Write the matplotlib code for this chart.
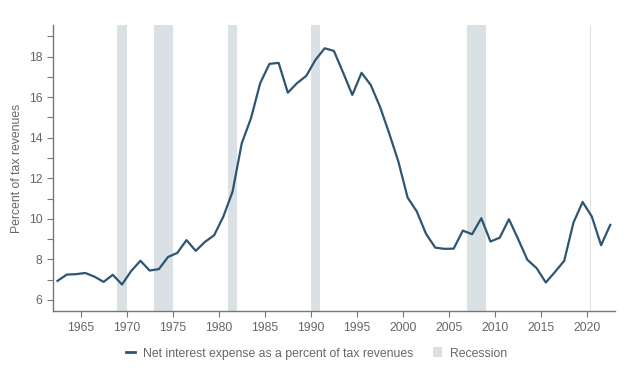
import numpy as np
import matplotlib
matplotlib.use("Agg")
import matplotlib.pyplot as plt
from matplotlib.patches import Patch
from matplotlib.lines import Line2D
from matplotlib.ticker import MultipleLocator

# fiscal years, plotted at mid-year
years = np.arange(1962, 2023)
interest_pct = [
    6.94, 7.25, 7.27, 7.33, 7.15, 6.89, 7.24, 6.76, 7.43, 7.93,
    7.45, 7.52, 8.12, 8.32, 8.95, 8.42, 8.86, 9.19, 10.11, 11.34,
    13.73, 14.96, 16.69, 17.64, 17.69, 16.22, 16.69, 17.05, 17.84, 18.41,
    18.28, 17.21, 16.11, 17.20, 16.60, 15.53, 14.22, 12.82, 11.05, 10.36,
    9.26, 8.58, 8.52, 8.53, 9.42, 9.24, 10.03, 8.88, 9.07, 9.98,
    9.00, 7.98, 7.57, 6.86, 7.38, 7.93, 9.81, 10.83, 10.11, 8.70,
    9.70,
]
recession_start = [1969.0, 1973.0, 1981.0, 1990.0, 2007.0, 2020.25]
recession_end = [1970.0, 1975.0, 1982.0, 1991.0, 2009.0, 2020.45]

line_color = "#2f5570"
shade_color = "#d9e1e4"
text_color = "#666666"

plt.rcParams['font.family'] = ['Liberation Sans', 'DejaVu Sans']

fig = plt.figure(figsize=(6.3, 3.78), dpi=100)
ax = fig.add_axes([0.084, 0.177, 0.892, 0.757])

for s, e in zip(recession_start, recession_end):
    ax.axvspan(s, e, color=shade_color, lw=0, zorder=1)

ax.plot(years + 0.5, interest_pct, color=line_color, lw=1.6, zorder=3)

ax.set_xlim(1962, 2023)
ax.set_ylim(5.45, 19.56)
ax.set_xticks(np.arange(1965, 2021, 5))
ax.yaxis.set_major_locator(MultipleLocator(2))
ax.yaxis.set_minor_locator(MultipleLocator(1))
ax.set_yticks(np.arange(6, 19, 2))

for side in ['top', 'right']:
    ax.spines[side].set_visible(False)
for side in ['left', 'bottom']:
    ax.spines[side].set_color("#777777")
    ax.spines[side].set_linewidth(1.0)

ax.tick_params(axis='both', which='both', colors="#777777", labelcolor=text_color,
               labelsize=8.8, length=4, width=0.8)
ax.set_ylabel("Percent of tax revenues", color=text_color, fontsize=8.8, labelpad=4)

handles = [Line2D([], [], color=line_color, lw=2),
           Patch(facecolor=shade_color, edgecolor='none')]
labels = ["Net interest expense as a percent of tax revenues", "Recession"]
fig.legend(handles, labels, loc='center', bbox_to_anchor=(0.502, 0.065), ncol=2,
           frameon=False, fontsize=8.8, labelcolor=text_color, handlelength=0.8,
           handleheight=0.9, columnspacing=1.6, handletextpad=0.6)

fig.savefig("out.png", dpi=100)
